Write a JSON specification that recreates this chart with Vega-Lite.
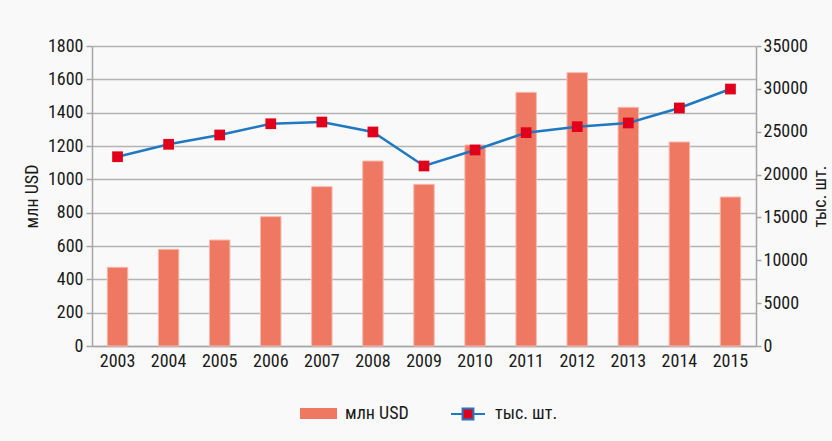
{
  "$schema": "https://vega.github.io/schema/vega-lite/v6.json",
  "width": 664,
  "height": 300,
  "autosize": {"type": "none"},
  "padding": {"left": 92, "top": 46, "right": 76, "bottom": 95},
  "background": "#f9f9f9",
  "config": {
    "font": "'Roboto Condensed', 'Liberation Sans Narrow', 'DejaVu Sans Condensed', sans-serif",
    "view": {"stroke": null},
    "axis": {
      "labelFontSize": 18,
      "labelColor": "#1a1a1a",
      "titleFontSize": 18,
      "titleFontWeight": "normal",
      "titleColor": "#1a1a1a",
      "domainColor": "#a6a6a6",
      "domainWidth": 1.5,
      "tickColor": "#a6a6a6",
      "tickWidth": 1.5,
      "gridColor": "#b4b4b4",
      "gridWidth": 1.3
    },
    "legend": {
      "labelFontSize": 18,
      "labelColor": "#1a1a1a"
    }
  },
  "data": {
    "values": [
      {"year": "2003", "usd": 472, "pcs": 22080},
      {"year": "2004", "usd": 580, "pcs": 23530},
      {"year": "2005", "usd": 636, "pcs": 24620},
      {"year": "2006", "usd": 776, "pcs": 25930},
      {"year": "2007", "usd": 956, "pcs": 26130},
      {"year": "2008", "usd": 1110, "pcs": 24970},
      {"year": "2009", "usd": 970, "pcs": 21000},
      {"year": "2010", "usd": 1206, "pcs": 22870},
      {"year": "2011", "usd": 1522, "pcs": 24890},
      {"year": "2012", "usd": 1640, "pcs": 25590},
      {"year": "2013", "usd": 1432, "pcs": 26020},
      {"year": "2014", "usd": 1224, "pcs": 27770},
      {"year": "2015", "usd": 894, "pcs": 29980}
    ]
  },
  "layer": [
    {
      "mark": {"type": "bar", "stroke": "#f7b9ab", "strokeWidth": 1},
      "encoding": {
        "x": {
          "field": "year",
          "type": "ordinal",
          "scale": {"paddingInner": 0.6, "paddingOuter": 0.3},
          "axis": {"title": null, "labelAngle": 0, "ticks": false, "labelPadding": 6, "domainColor": "#a6a6a6"}
        },
        "y": {
          "field": "usd",
          "type": "quantitative",
          "scale": {"domain": [0, 1800]},
          "axis": {
            "title": "млн USD",
            "values": [0, 200, 400, 600, 800, 1000, 1200, 1400, 1600, 1800],
            "format": "d",
            "grid": true,
            "tickSize": 6,
            "labelPadding": 3,
            "titlePadding": 6
          }
        },
        "fill": {
          "datum": "млн USD",
          "scale": {"range": ["#ef7862"]},
          "legend": {
            "title": null,
            "orient": "none",
            "legendX": 208,
            "legendY": 349,
            "symbolType": "M-1,-0.3H1V0.3H-1Z",
            "symbolSize": 1369,
            "symbolStrokeWidth": 0,
            "labelOffset": 8
          }
        }
      }
    },
    {
      "layer": [
        {
          "mark": {"type": "line", "strokeWidth": 2.5},
          "encoding": {
            "x": {"field": "year", "type": "ordinal"},
            "y": {
              "field": "pcs",
              "type": "quantitative",
              "scale": {"domain": [0, 35000]},
              "axis": {
                "orient": "right",
                "title": "тыс. шт.",
                "titleAngle": -90,
                "values": [0, 5000, 10000, 15000, 20000, 25000, 30000, 35000],
                "grid": false,
                "tickSize": 5,
                "labelPadding": 2,
                "titlePadding": 22,
                "format": "d"
              }
            },
            "stroke": {
              "datum": "тыс. шт.",
              "scale": {"range": ["#1f78c1"]},
              "legend": {
                "title": null,
                "orient": "none",
                "legendX": 358,
                "legendY": 350,
                "symbolType": "M-1,0H-0.32M0.32,0H1M-0.32,-0.32H0.32V0.32H-0.32Z",
                "symbolSize": 1156,
                "symbolStrokeWidth": 2,
                "symbolFillColor": "#e0001b",
                "labelOffset": 9
              }
            }
          }
        },
        {
          "mark": {"type": "point", "shape": "square", "filled": true, "color": "#e0001b", "size": 115, "opacity": 1},
          "encoding": {
            "x": {"field": "year", "type": "ordinal"},
            "y": {"field": "pcs", "type": "quantitative"}
          }
        }
      ]
    }
  ],
  "resolve": {"scale": {"y": "independent", "fill": "independent", "stroke": "independent"}}
}
